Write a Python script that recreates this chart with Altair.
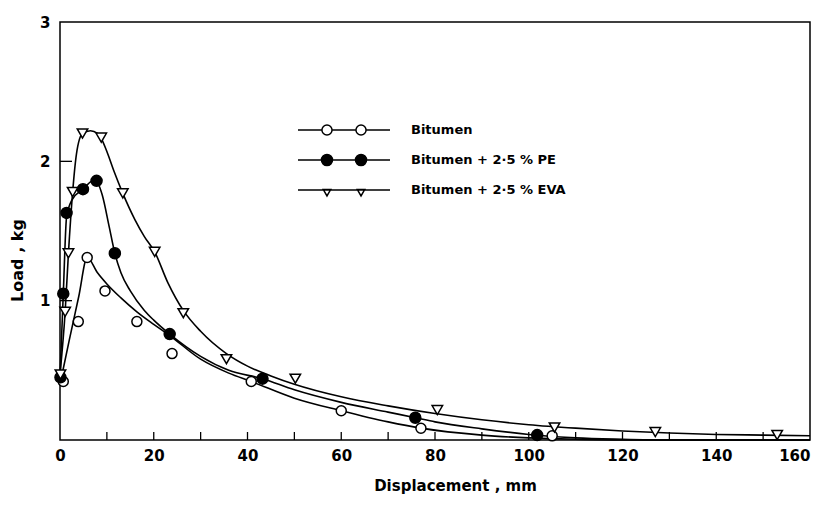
import altair as alt
import pandas as pd

SERIES = ["Bitumen", "Bitumen + 2·5 % PE", "Bitumen + 2·5 % EVA"]

# measured points (Displacement mm, Load kg)
bit_x = [0.7, 3.9, 5.8, 9.6, 16.4, 23.9, 40.8, 60.0, 77.0, 105.0]
bit_y = [0.42, 0.85, 1.31, 1.07, 0.85, 0.62, 0.42, 0.21, 0.084, 0.03]
pe_x = [0.1, 0.7, 1.4, 4.9, 7.8, 11.7, 23.4, 43.2, 75.8, 101.8]
pe_y = [0.45, 1.05, 1.63, 1.80, 1.86, 1.34, 0.76, 0.44, 0.16, 0.035]
eva_x = [0.1, 1.1, 1.8, 2.7, 4.8, 8.8, 13.4, 20.2, 26.3, 35.5, 50.2, 80.5, 105.5, 127.0, 153.0]
eva_y = [0.47, 0.92, 1.34, 1.78, 2.20, 2.17, 1.77, 1.35, 0.91, 0.58, 0.44, 0.215, 0.09, 0.057, 0.036]

# drawn (fitted) curves
bit_cx = [0, 2, 4, 5.8, 8, 10, 13, 16.4, 20, 23.4, 30, 36, 40.8, 50, 60, 70, 77, 90, 100, 110, 120, 160]
bit_cy = [0.40, 0.72, 1.03, 1.31, 1.20, 1.12, 1.02, 0.92, 0.83, 0.75, 0.58, 0.48, 0.42, 0.30, 0.21, 0.13, 0.085, 0.035, 0.015, 0.005, 0.0, 0.0]
pe_cx = [0, 0.7, 1.4, 2.5, 4.9, 7.5, 9, 10.5, 11.7, 13, 15, 18, 20, 23.4, 30, 36, 43.2, 50, 60, 70, 75.8, 80, 90, 100, 110, 120, 130, 160]
pe_cy = [0.45, 1.05, 1.60, 1.72, 1.80, 1.87, 1.76, 1.53, 1.34, 1.20, 1.07, 0.93, 0.86, 0.76, 0.60, 0.50, 0.44, 0.36, 0.27, 0.20, 0.16, 0.13, 0.08, 0.04, 0.015, 0.005, 0.0, 0.0]
eva_cx = [0, 1.1, 1.8, 2.7, 3.5, 4.8, 6.5, 8.0, 9.0, 10, 11.5, 13.4, 16, 18, 20.2, 23, 26.3, 30, 35.5, 40, 45, 50, 60, 70, 80, 90, 100, 110, 120, 130, 140, 150, 160]
eva_cy = [0.47, 0.92, 1.34, 1.78, 2.05, 2.20, 2.22, 2.20, 2.15, 2.07, 1.93, 1.77, 1.58, 1.46, 1.35, 1.13, 0.93, 0.78, 0.62, 0.53, 0.46, 0.40, 0.31, 0.245, 0.19, 0.145, 0.11, 0.085, 0.065, 0.05, 0.04, 0.035, 0.03]

x_labels = [0, 20, 40, 60, 80, 100, 120, 140, 160]
x_minor = [10, 20, 30, 40, 50, 60, 70, 80, 90, 100, 110, 120, 130, 140, 150]
y_labels = [1, 2, 3]
y_minor = [1, 2]

FONT = "DejaVu Sans"

pts = pd.concat([
    pd.DataFrame({"series": SERIES[0], "x": bit_x, "y": bit_y}),
    pd.DataFrame({"series": SERIES[1], "x": pe_x, "y": pe_y}),
    pd.DataFrame({"series": SERIES[2], "x": eva_x, "y": eva_y}),
])
curves = pd.concat([
    pd.DataFrame({"series": SERIES[0], "x": bit_cx, "y": bit_cy}),
    pd.DataFrame({"series": SERIES[1], "x": pe_cx, "y": pe_cy}),
    pd.DataFrame({"series": SERIES[2], "x": eva_cx, "y": eva_cy}),
])

xs = alt.Scale(domain=[0, 160], nice=False, zero=False)
ys = alt.Scale(domain=[0, 3], nice=False)

X = alt.X("x:Q", scale=xs, axis=alt.Axis(
    values=x_labels, format="d", tickSize=0, domain=False, grid=False, labelPadding=8,
    labelFlush=False, labelOverlap=False,
    labelAlign={"condition": {"test": "datum.value >= 160", "value": "right"}, "value": "center"},
    labelFont=FONT, labelFontSize=15, labelFontWeight="bold", labelColor="black",
    title="Displacement , mm", titleFont=FONT, titleFontSize=15, titleFontWeight="bold",
    titleColor="black", titleX=395, titleY=45, titleBaseline="middle", titleAlign="center"))
Y = alt.Y("y:Q", scale=ys, axis=alt.Axis(
    values=y_labels, format="d", tickSize=0, domain=False, grid=False, labelPadding=10,
    labelFlush=False, labelOverlap=False,
    labelFont=FONT, labelFontSize=15, labelFontWeight="bold", labelColor="black",
    title="Load , kg", titleFont=FONT, titleFontSize=16, titleFontWeight="bold",
    titleColor="black", titleX=-43, titleY=238, titleAngle=270,
    titleBaseline="middle", titleAlign="center"))

lines = alt.Chart(curves).mark_line(color="black", strokeWidth=1.6, interpolate="monotone").encode(
    x=X, y=Y, detail="series:N", order="x:Q")

def pts_layer(name, shape, fill, size):
    return alt.Chart(pts).transform_filter(alt.datum.series == name).mark_point(
        shape=shape, fill=fill, filled=False, stroke="black", strokeWidth=1.5,
        size=size, opacity=1, fillOpacity=1).encode(x=X, y=Y)

p_bit = pts_layer(SERIES[0], "circle", "white", 100)
p_pe = pts_layer(SERIES[1], "circle", "black", 121)
p_eva = pts_layer(SERIES[2], "triangle-down", "white", 110)

xt = pd.DataFrame({"t": x_minor})
yt = pd.DataFrame({"t": y_minor})
xticks = alt.Chart(xt).mark_rule(color="black", strokeWidth=1.3).encode(
    x=alt.X("t:Q", scale=xs), y=alt.value(418), y2=alt.value(410))
yticks = alt.Chart(yt).mark_rule(color="black", strokeWidth=1.3).encode(
    y=alt.Y("t:Q", scale=ys), x=alt.value(0), x2=alt.value(12))

# legend: line with two markers, drawn as custom symbol paths
P_OPEN = ("M-1,0H-0.48M-0.26,0H0.26M0.48,0H1"
          "M-0.26,0A0.11,0.11 0 1 1 -0.48,0A0.11,0.11 0 1 1 -0.26,0Z"
          "M0.48,0A0.11,0.11 0 1 1 0.26,0A0.11,0.11 0 1 1 0.48,0Z")
P_FILL = ("M-1,0H1"
          "M-0.25,0A0.12,0.12 0 1 1 -0.49,0A0.12,0.12 0 1 1 -0.25,0Z"
          "M0.49,0A0.12,0.12 0 1 1 0.25,0A0.12,0.12 0 1 1 0.49,0Z")
P_TRI = ("M-1,0H1"
         "M-0.45,-0.01L-0.29,-0.01L-0.37,0.13Z"
         "M0.29,-0.01L0.45,-0.01L0.37,0.13Z")

leg_df = pd.DataFrame({"series": SERIES})
LEG = alt.Legend(orient="none", legendX=237, legendY=100, title=None, padding=0,
                 symbolSize=8464, symbolStrokeWidth=1.5, symbolStrokeColor="black",
                 symbolOpacity=1, symbolOffset=0, labelOffset=20, rowPadding=14,
                 clipHeight=16,
                 labelFont=FONT, labelFontSize=13, labelFontWeight="bold", labelColor="black")
legend_layer = alt.Chart(leg_df).mark_point(opacity=0).encode(
    shape=alt.Shape("series:N", scale=alt.Scale(domain=SERIES, range=[P_OPEN, P_FILL, P_TRI]),
                    legend=LEG, sort=SERIES),
    fill=alt.Fill("series:N", scale=alt.Scale(domain=SERIES, range=["white", "black", "white"]),
                  legend=LEG, sort=SERIES),
    stroke=alt.Stroke("series:N", scale=alt.Scale(domain=SERIES, range=["black", "black", "black"]),
                      legend=LEG, sort=SERIES),
)

chart = alt.layer(lines, xticks, yticks, p_bit, p_pe, p_eva, legend_layer).properties(
    width=750, height=418, background="white",
    padding={"left": 52, "top": 14, "right": 8, "bottom": 57},
    autosize=alt.AutoSizeParams(type="none"),
).configure_view(stroke="black", strokeWidth=1.5)

chart.save("out.html", embed_options={"renderer": "svg", "actions": False})
